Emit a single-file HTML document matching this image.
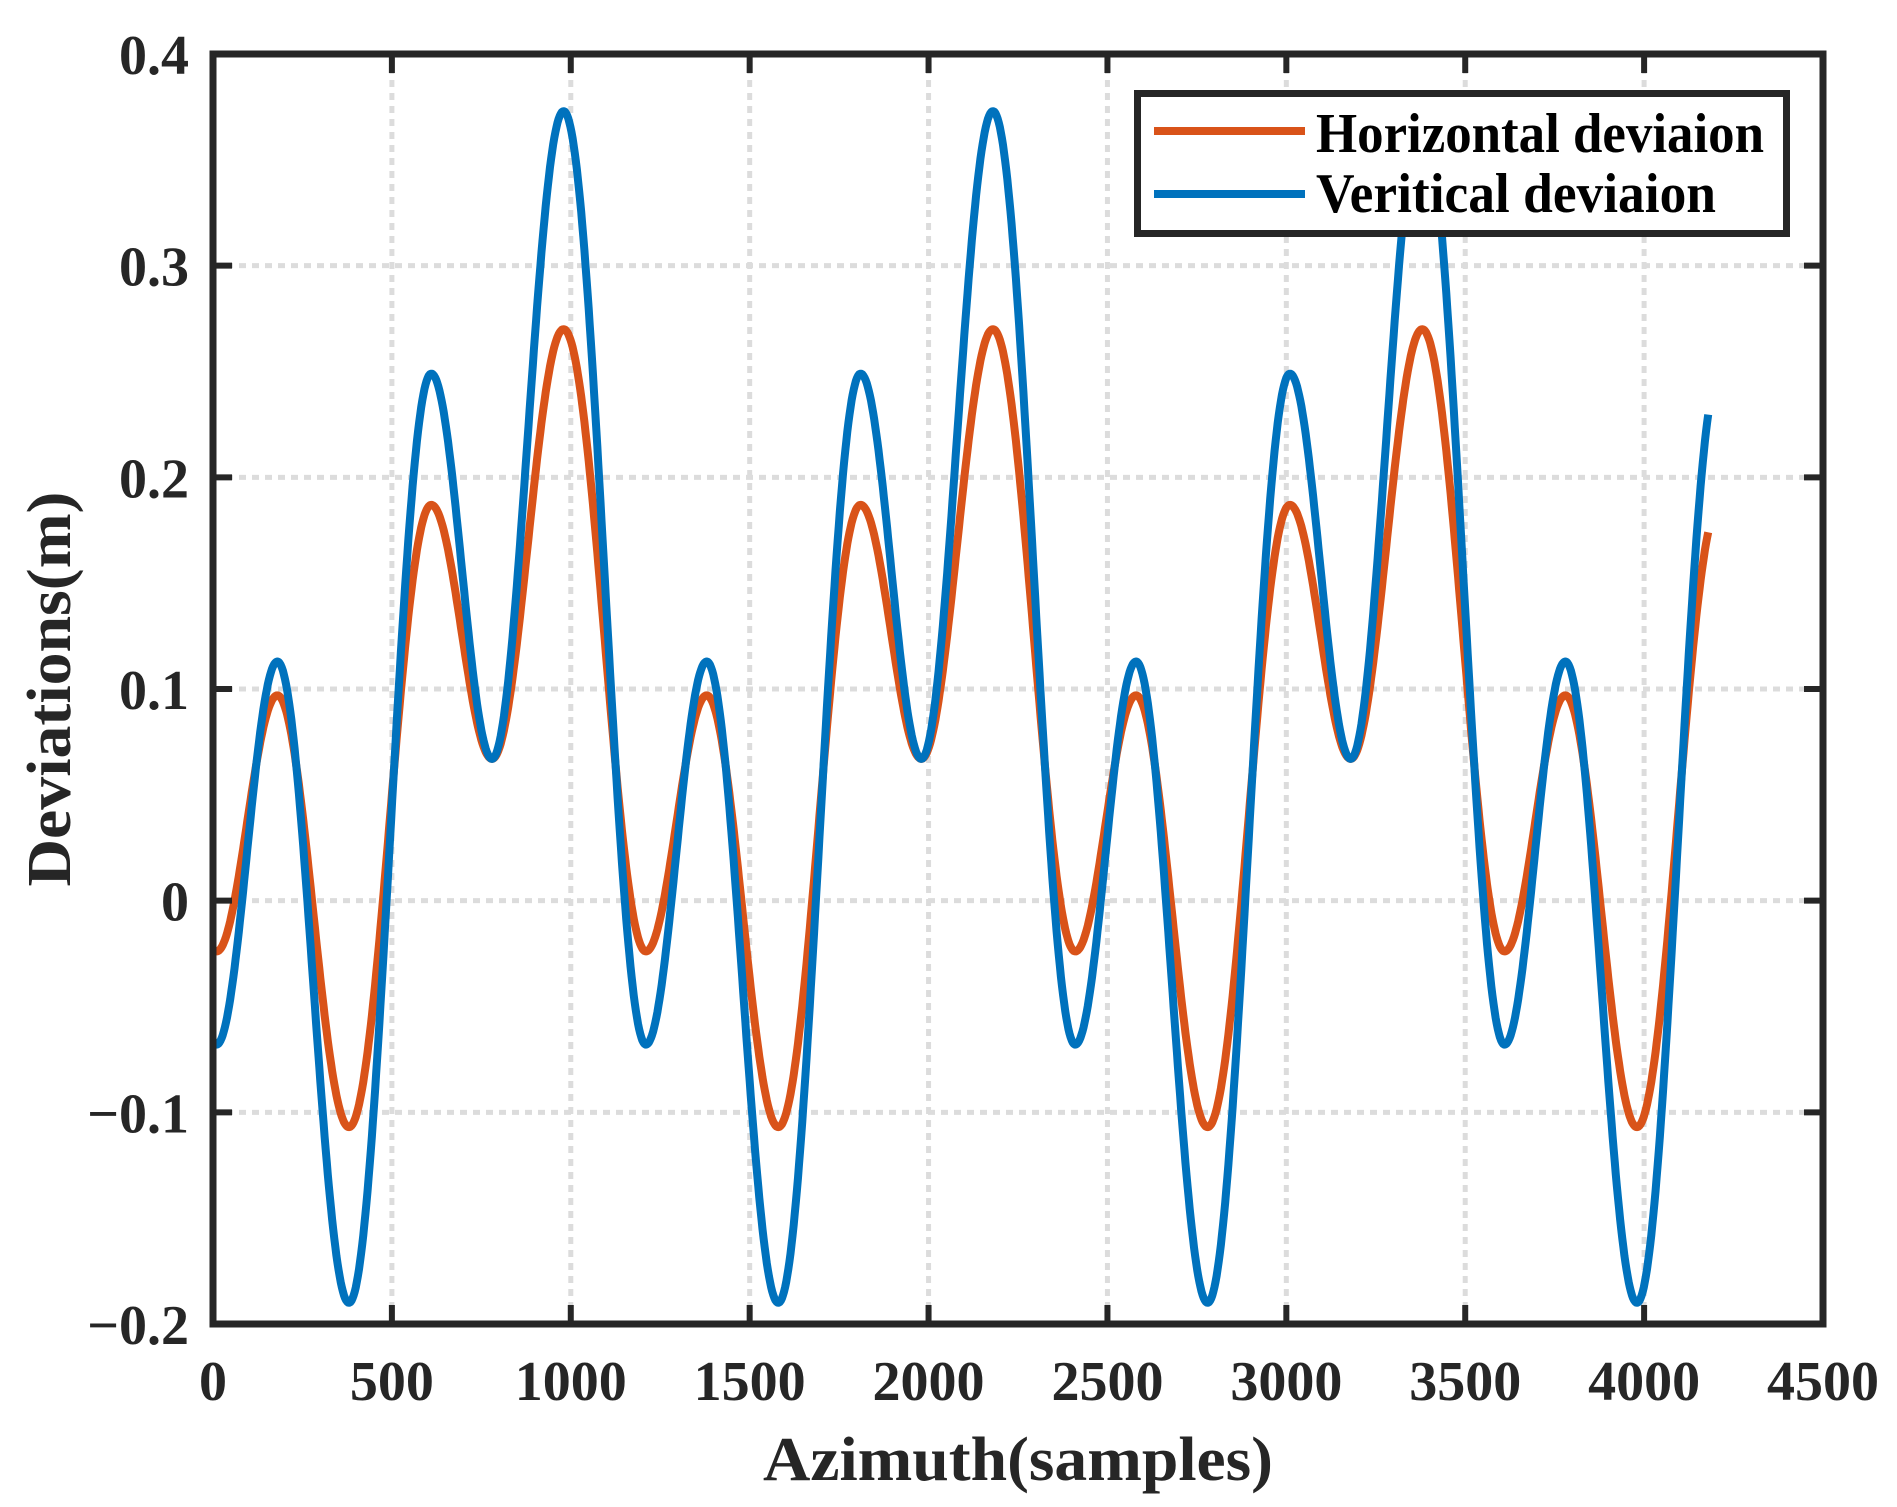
<!DOCTYPE html>
<html><head><meta charset="utf-8"><style>
html,body{margin:0;padding:0;background:#fff;}
svg{display:block;}
text{font-family:"Liberation Serif",serif;font-weight:bold;fill:#262626;}
</style></head><body>
<svg id="s" width="1897" height="1507" xmlns="http://www.w3.org/2000/svg">
<g id="grid" stroke="#dcdcdc" stroke-width="5" stroke-dasharray="7 6"></g>
<g id="ser" fill="none" stroke-width="8" stroke-linejoin="round"></g>
<g id="ax"></g>
<g id="lab" font-size="56"></g>
<rect x="1137.5" y="93.5" width="649" height="140" fill="#fff" stroke="#262626" stroke-width="7"/>
<line x1="1154" y1="131" x2="1305" y2="131" stroke="#D95319" stroke-width="8"/>
<line x1="1154" y1="194" x2="1305" y2="194" stroke="#0072BD" stroke-width="8"/>
<text x="1316" y="152" font-size="56" style="fill:#000" textLength="448" lengthAdjust="spacingAndGlyphs">Horizontal deviaion</text>
<text x="1316" y="212" font-size="56" style="fill:#000" textLength="400" lengthAdjust="spacingAndGlyphs">Veritical deviaion</text>
<text x="1018" y="1480" font-size="62" text-anchor="middle" textLength="510" lengthAdjust="spacingAndGlyphs">Azimuth(samples)</text>
<text transform="translate(70,689) rotate(-90)" font-size="62" text-anchor="middle" textLength="395" lengthAdjust="spacingAndGlyphs">Deviations(m)</text>
</svg>
<script>
var L=213,R=1823,T=54,B=1324;
function X(v){return L+(R-L)*v/4500;}
function Y(v){return T+(B-T)*(0.4-v)/0.6;}
var ns="http://www.w3.org/2000/svg";
function el(p,t,a){var e=document.createElementNS(ns,t);for(var k in a)e.setAttribute(k,a[k]);p.appendChild(e);return e;}
var g=document.getElementById('grid'),ax=document.getElementById('ax'),lab=document.getElementById('lab');
for(var i=1;i<9;i++){var x=X(i*500);el(g,'line',{x1:x,y1:T,x2:x,y2:B});}
for(var j=1;j<6;j++){var y=Y(-0.2+j*0.1);el(g,'line',{x1:L,y1:y,x2:R,y2:y});}
function build(ext,end){
 var list=[];
 for(var p=-1;p<5;p++){ext.forEach(function(e){list.push([e[0]+p*1200,e[1]]);});}
 list.sort(function(a,b){return a[0]-b[0];});
 var d='';
 for(var s=0;s<=end;s+=3){
  var k=0;while(list[k+1][0]<s)k++;
  var a=list[k],b=list[k+1];var t=(s-a[0])/(b[0]-a[0]);
  var v=a[1]+(b[1]-a[1])*(1-Math.cos(Math.PI*t))/2;
  d+=(s?'L':'M')+X(s).toFixed(1)+' '+Y(v).toFixed(1);
 }
 return d;
}
var H=[[10,-0.024],[180,0.097],[380,-0.107],[610,0.187],[780,0.067],[980,0.27]];
var V=[[10,-0.068],[180,0.113],[380,-0.19],[610,0.249],[780,0.067],[980,0.373]];
var ser=document.getElementById('ser');
el(ser,'path',{d:build(H,4180),stroke:'#D95319'});
el(ser,'path',{d:build(V,4180),stroke:'#0072BD'});
el(ax,'rect',{x:L,y:T,width:R-L,height:B-T,fill:'none',stroke:'#262626','stroke-width':7});
for(var i=0;i<=9;i++){var x=X(i*500);
 el(ax,'line',{x1:x,y1:B,x2:x,y2:B-19,stroke:'#262626','stroke-width':6});
 el(ax,'line',{x1:x,y1:T,x2:x,y2:T+19,stroke:'#262626','stroke-width':6});
 var t=el(lab,'text',{x:x,y:1400,'text-anchor':'middle'});t.textContent=String(i*500);}
var yl=['\u22120.2','\u22120.1','0','0.1','0.2','0.3','0.4'];
for(var j=0;j<=6;j++){var y=Y(-0.2+j*0.1);
 el(ax,'line',{x1:L,y1:y,x2:L+19,y2:y,stroke:'#262626','stroke-width':6});
 el(ax,'line',{x1:R,y1:y,x2:R-19,y2:y,stroke:'#262626','stroke-width':6});
 var t=el(lab,'text',{x:189,y:y+20,'text-anchor':'end'});t.textContent=yl[j];}
</script>
</body></html>
